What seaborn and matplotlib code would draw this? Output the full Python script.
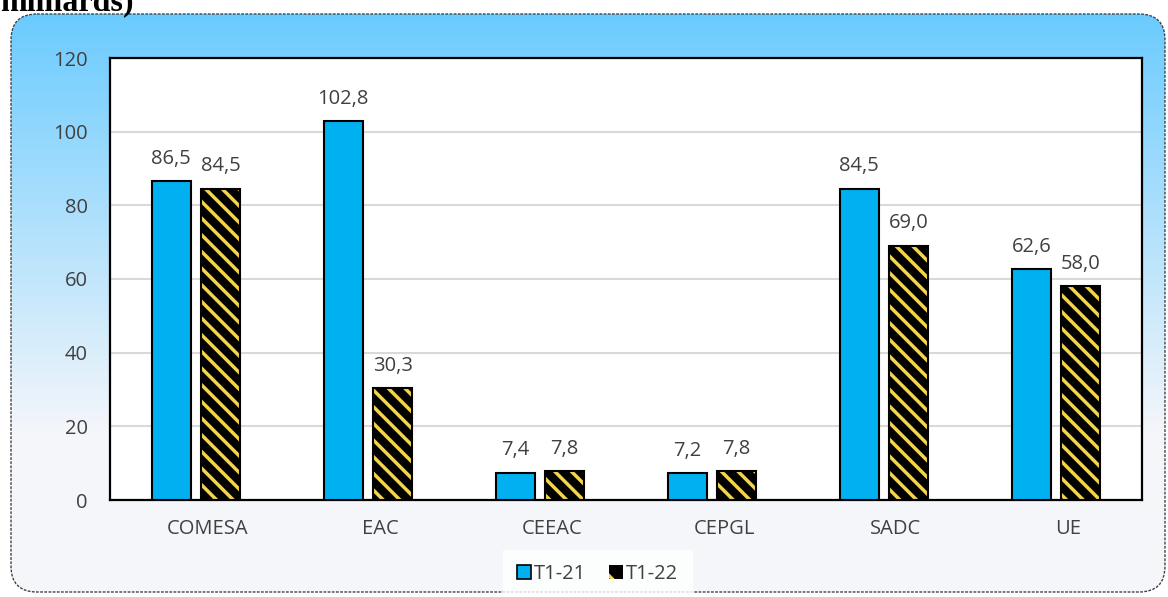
import numpy as np
import pandas as pd
import matplotlib
matplotlib.use("Agg")
import matplotlib.pyplot as plt
import matplotlib.transforms as mtransforms
import seaborn as sns
from matplotlib.patches import FancyBboxPatch, Rectangle, Patch
from matplotlib.colors import to_rgb

# data
regions = ["COMESA", "EAC", "CEEAC", "CEPGL", "SADC", "UE"]
periods = ["T1-21", "T1-22"]
t1_21 = [86.5, 102.8, 7.4, 7.2, 84.5, 62.6]
t1_22 = [84.5, 30.3, 7.8, 7.8, 69.0, 58.0]
y_ticks = [0, 20, 40, 60, 80, 100, 120]

df = pd.DataFrame({
    "region": regions * 2,
    "period": [periods[0]] * len(regions) + [periods[1]] * len(regions),
    "value": t1_21 + t1_22,
})

blue = "#00B0F0"
yellow = "#F5D547"
txt = "#404040"
fs = 14.5

sns.set_theme(style="white")
plt.rcParams["font.family"] = ["Open Sans", "DejaVu Sans"]
plt.rcParams["hatch.linewidth"] = 2.5

W, H = 1168, 597
fig = plt.figure(figsize=(W / 100, H / 100), dpi=100)
fig.patch.set_facecolor("white")

# background: rounded box with blue -> white gradient
bg = fig.add_axes([0, 0, 1, 1], zorder=0)
bg.set_xlim(0, W)
bg.set_ylim(H, 0)
bg.axis("off")
top_c = np.array(to_rgb("#6BCBFF"))
bot_c = np.array(to_rgb("#F4F6FA"))
ys = np.arange(H)
t = np.clip((ys - 14) / (430 - 14), 0, 1)[:, None]
grad = (top_c * (1 - t) + bot_c * t)[:, None, :]
img = bg.imshow(np.repeat(grad, 2, axis=1), extent=[0, W, H, 0], aspect="auto")
box = FancyBboxPatch((11, 14), 1154, 578, boxstyle="round,pad=0,rounding_size=26",
                     facecolor="none", edgecolor="#444444", lw=1.0, linestyle=(0, (2, 1)))
bg.add_patch(box)
img.set_clip_path(box)

fig.text(0.0, 1 - 10 / H, "milliards)", family="Liberation Serif", fontweight="bold",
         fontsize=23, color="black", va="baseline", ha="left")

# main plot
ax = fig.add_axes([110 / W, 1 - 500 / H, (1142 - 110) / W, (500 - 58) / H], zorder=1)
ax.set_facecolor("white")
sns.barplot(data=df, x="region", y="value", hue="period", order=regions,
            hue_order=periods, palette=[blue, "black"], saturation=1, width=0.574, gap=0.21,
            edgecolor="black", linewidth=1.5, legend=False, ax=ax, zorder=3)

for p in ax.containers[1].patches:
    p.set_facecolor("black")
    p.set_edgecolor(yellow)
    p.set_hatch("\\\\")
    p.set_linewidth(0)
    ax.add_patch(Rectangle(p.get_xy(), p.get_width(), p.get_height(), fill=False,
                           edgecolor="black", lw=1.5, zorder=4))

for cont, vals in zip(ax.containers, [t1_21, t1_22]):
    ax.bar_label(cont, labels=[f"{v:.1f}".replace(".", ",") for v in vals],
                 padding=9, fontsize=fs, color=txt)

ax.set_ylim(0, 120)
ax.set_xlim(-0.5, len(regions) - 0.5)
ax.set_yticks(y_ticks)
ax.yaxis.grid(True, color="#D9D9D9", lw=1.5, zorder=0)
ax.set_axisbelow(True)
ax.tick_params(axis="both", length=0, labelsize=fs, labelcolor=txt)
ax.tick_params(axis="y", pad=16)
ax.tick_params(axis="x", pad=14)
ax.set_xlabel("")
ax.set_ylabel("")
for s in ax.spines.values():
    s.set_visible(True)
    s.set_color("black")
    s.set_linewidth(1.6)

# category labels sit a little right of the bar pairs in the original
off = mtransforms.ScaledTranslation(12 / 100, 0, fig.dpi_scale_trans)
for lab in ax.get_xticklabels():
    lab.set_transform(lab.get_transform() + off)

handles = [Patch(facecolor=blue, edgecolor="black", lw=1.2),
           Patch(facecolor="black", edgecolor=yellow, hatch="\\", lw=0)]
leg = fig.legend(handles, periods, loc="center", bbox_to_anchor=(597.5 / W, 1 - 574 / H),
                 ncol=2, frameon=True, fontsize=fs, handlelength=0.7, handleheight=0.7,
                 handletextpad=0.15, columnspacing=1.1, borderpad=0.7, fancybox=False)
leg.get_frame().set_facecolor("white")
leg.get_frame().set_edgecolor("white")
for tx in leg.get_texts():
    tx.set_color(txt)

fig.savefig("out.png", dpi=100)
